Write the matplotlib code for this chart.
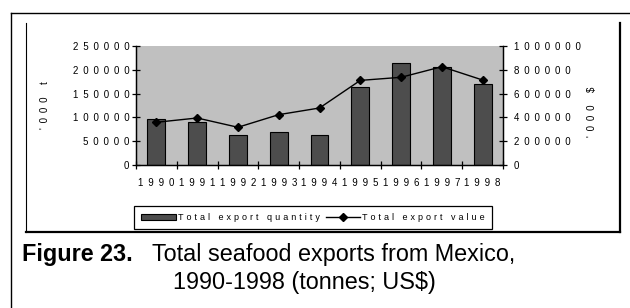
import matplotlib
matplotlib.use("Agg")
import matplotlib.pyplot as plt
from matplotlib.lines import Line2D
from matplotlib.ticker import FuncFormatter

plt.rcParams['font.family'] = ['Liberation Sans', 'DejaVu Sans']

# data
years = ['1990', '1991', '1992', '1993', '1994', '1995', '1996', '1997', '1998']
quantity = [97000, 91000, 64000, 68500, 62500, 163000, 213500, 206500, 170000]
value = [359000, 395000, 317000, 423000, 479000, 711000, 737000, 826000, 714000]

EN = '\u2002'
THREE = '\u2004'


def spaced(s, sep=EN):
    return sep.join(s)


fig = plt.figure(figsize=(6.3, 3.08), dpi=100)
ax = fig.add_axes([136 / 630, 1 - 165 / 308, 367 / 630, 119 / 308])
ax2 = ax.twinx()

x = list(range(len(years)))
bars = ax.bar(x, quantity, width=0.44, color='#4d4d4d', edgecolor='black',
              linewidth=0.8, label=spaced('Total export quantity', THREE), zorder=2)
line, = ax2.plot(x, value, color='black', lw=1, marker='D', markersize=4,
                 label=spaced('Total export value', THREE))

ax.set_facecolor('#c0c0c0')
ax.set_xlim(-0.5, 8.5)
ax.set_ylim(0, 250000)
ax2.set_ylim(0, 1000000)
ax.set_yticks(range(0, 250001, 50000))
ax2.set_yticks(range(0, 1000001, 200000))

# category boundaries get the ticks, labels sit at the centres
ax.set_xticks([i + 0.5 for i in range(-1, 9)])
ax.set_xticklabels([])
ax.set_xticks(x, minor=True)
ax.set_xticklabels([spaced(y) for y in years], minor=True)
ax.tick_params(axis='x', which='major', direction='inout', length=5.8, width=0.9)
ax.tick_params(axis='x', which='minor', length=0, pad=9, labelsize=7)

fmt = FuncFormatter(lambda v, p: spaced(str(int(v))))
ax.yaxis.set_major_formatter(fmt)
ax2.yaxis.set_major_formatter(fmt)
ax.tick_params(axis='y', direction='inout', length=5.8, width=0.9, labelsize=7, pad=2)
ax2.tick_params(axis='y', direction='inout', length=5.8, width=0.9, labelsize=7, pad=5)

for a in (ax, ax2):
    a.spines['top'].set_visible(False)
    for s in a.spines.values():
        s.set_linewidth(0.9)

ax.set_ylabel(spaced("'000 t"), fontsize=7)
ax.yaxis.set_label_coords(-0.234, 0.5)
ax2.set_ylabel(spaced("'000 $"), fontsize=7, rotation=90)
ax2.yaxis.set_label_coords(1.229, 0.445)

leg = fig.legend([bars, line], [bars.get_label(), line.get_label()], ncol=2,
                 loc='center', bbox_to_anchor=(313 / 630, 1 - 217.5 / 308),
                 fontsize=6.5, frameon=True, fancybox=False, edgecolor='black',
                 framealpha=1, borderpad=0.8, handlelength=3.8, handletextpad=0.2,
                 columnspacing=0.7, borderaxespad=0)
leg.get_frame().set_linewidth(0.9)

# page frames around the chart
W, H = 630, 308
def fline(xs, ys, lw):
    fig.add_artist(Line2D([v / W for v in xs], [1 - v / H for v in ys],
                          color='black', lw=lw, transform=fig.transFigure))

fline([11, 11], [13, 308], 1.0)
fline([11, 630], [13, 13], 1.0)
fline([26, 26], [23, 232], 0.8)
fline([26, 620], [232, 232], 1.6)
fline([620, 620], [23, 232], 1.6)

fig.text(21.7 / W, 1 - 261 / H, 'Figure 23.', fontsize=16.8, fontweight='bold',
         ha='left', va='baseline')
fig.text(151.7 / W, 1 - 261 / H, 'Total seafood exports from Mexico,', fontsize=16.8,
         ha='left', va='baseline')
fig.text(172.7 / W, 1 - 289 / H, '1990-1998 (tonnes; US$)', fontsize=16.8,
         ha='left', va='baseline')

fig.savefig('out.png', dpi=100)
